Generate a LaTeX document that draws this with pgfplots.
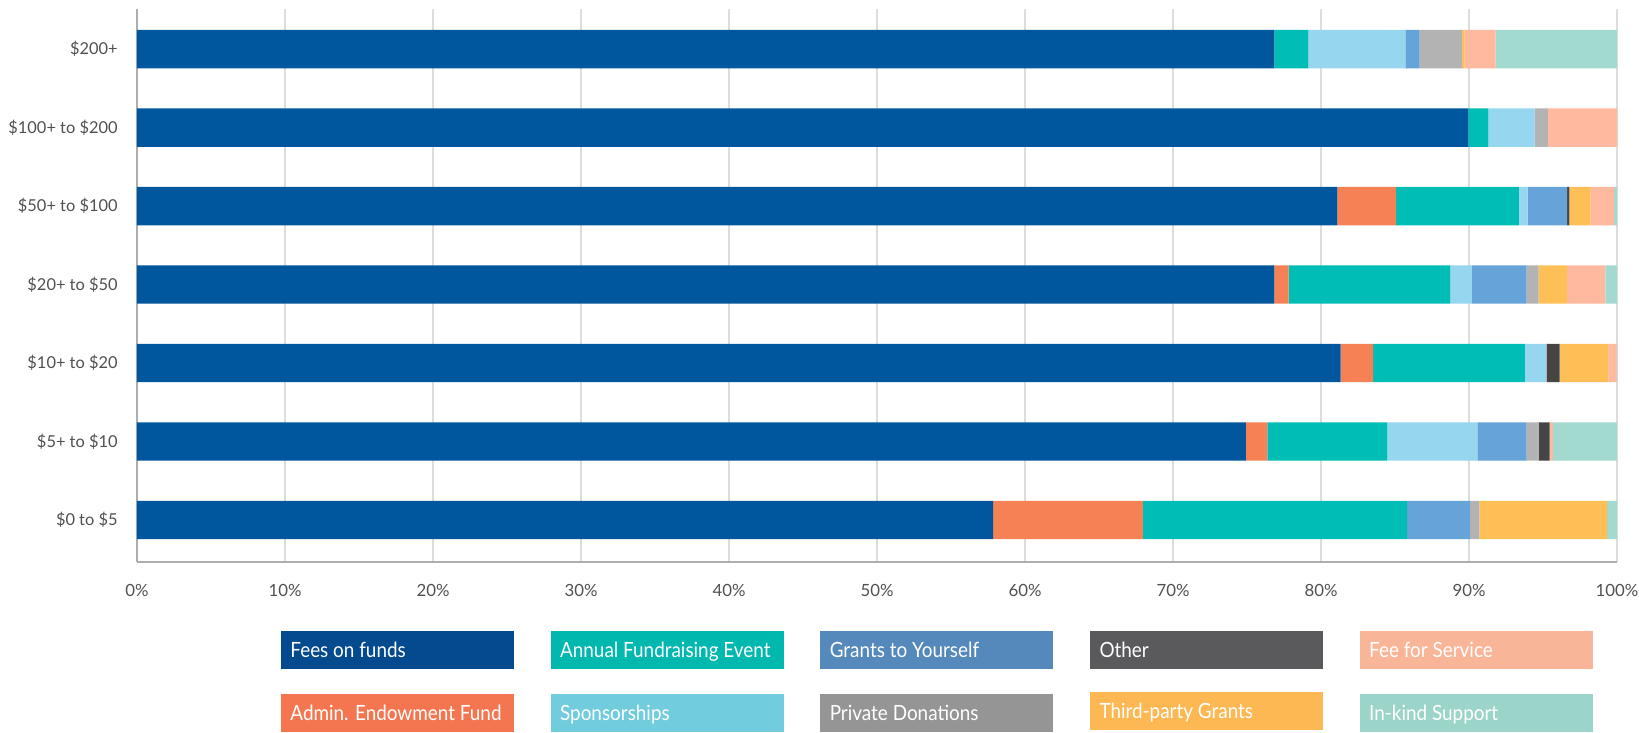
\documentclass[border=0pt]{standalone}
\usepackage{fontspec}
\setmainfont{Lato}
\newfontfamily\legfont[FakeStretch=0.9]{Lato}
\usepackage{pgfplots}
\usepackage{pgfplotstable}
\pgfplotsset{compat=1.18}

\definecolor{cFees}{HTML}{00579D}
\definecolor{cAdmin}{HTML}{F58154}
\definecolor{cAnnual}{HTML}{00BDB5}
\definecolor{cSpons}{HTML}{96D6EE}
\definecolor{cGrants}{HTML}{66A3D8}
\definecolor{cPrivate}{HTML}{B3B3B3}
\definecolor{cOther}{HTML}{454545}
\definecolor{cThird}{HTML}{FEBF56}
\definecolor{cFfS}{HTML}{FFB99F}
\definecolor{cInkind}{HTML}{A3DAD0}

\definecolor{lFees}{HTML}{034A8E}
\definecolor{lAdmin}{HTML}{F47650}
\definecolor{lAnnual}{HTML}{00B8AE}
\definecolor{lSpons}{HTML}{71CCDD}
\definecolor{lGrants}{HTML}{5588BB}
\definecolor{lPrivate}{HTML}{959595}
\definecolor{lOther}{HTML}{5A5A5C}
\definecolor{lThird}{HTML}{FDB853}
\definecolor{lFfS}{HTML}{F9B597}
\definecolor{lInkind}{HTML}{9BD5C9}

\definecolor{gridgray}{HTML}{DDDDDD}
\definecolor{axgray}{HTML}{AEAEAE}
\definecolor{labgray}{HTML}{505050}

\pgfplotstableread{
y fees admin annual spons grants private other third ffs inkind
0 57.85 10.11 17.85 0    4.26 0.63 0    8.63 0    0.67
1 74.93 1.44  8.11  6.08 3.33 0.81 0.74 0    0.23 4.33
2 81.33 2.19  10.26 1.41 0    0.05 0.88 3.30 0.55 0.03
3 76.85 0.96  10.93 1.45 3.70 0.81 0    1.93 2.59 0.78
4 81.11 3.96  8.30  0.59 2.67 0    0.15 1.44 1.59 0.19
5 89.96 0     1.34  3.14 0    0.89 0    0    4.67 0
6 76.85 0     2.30  6.55 0.97 2.85 0    0.18 2.10 8.20
}\datatable

\begin{document}
\begin{tikzpicture}
\useasboundingbox (0,0) rectangle (819.5pt,366.5pt);
\begin{axis}[
  at={(68.5pt,85.5pt)}, anchor=south west,
  scale only axis, width=740pt, height=276.5pt,
  xbar stacked, bar width=0.49,
  xmin=0, xmax=100, ymin=-0.535, ymax=6.51,
  xtick={0,10,...,100},
  xticklabels={0\%,10\%,20\%,30\%,40\%,50\%,60\%,70\%,80\%,90\%,100\%},
  ytick={0,1,2,3,4,5,6},
  yticklabels={\$0 to \$5,\$5+ to \$10,\$10+ to \$20,\$20+ to \$50,\$50+ to \$100,\$100+ to \$200,\$200+},
  tick style={draw=none}, major tick length=0pt,
  xmajorgrids, grid style={draw=gridgray, line width=0.6pt},
  axis x line*=bottom, axis y line*=left,
  x axis line style={-, draw=axgray, line width=1.3pt},
  y axis line style={-, draw=axgray, line width=0.9pt},
  xticklabel style={font=\fontsize{8.4}{10}\selectfont, text=labgray, inner sep=0pt, anchor=north, yshift=-11pt},
  yticklabel style={font=\fontsize{8.2}{10}\selectfont, text=labgray, inner sep=0pt, anchor=east, xshift=-9.5pt},
]
\addplot[fill=cFees, draw=none] table[x=fees, y=y]{\datatable};
\addplot[fill=cAdmin, draw=none] table[x=admin, y=y]{\datatable};
\addplot[fill=cAnnual, draw=none] table[x=annual, y=y]{\datatable};
\addplot[fill=cSpons, draw=none] table[x=spons, y=y]{\datatable};
\addplot[fill=cGrants, draw=none] table[x=grants, y=y]{\datatable};
\addplot[fill=cPrivate, draw=none] table[x=private, y=y]{\datatable};
\addplot[fill=cOther, draw=none] table[x=other, y=y]{\datatable};
\addplot[fill=cThird, draw=none] table[x=third, y=y]{\datatable};
\addplot[fill=cFfS, draw=none] table[x=ffs, y=y]{\datatable};
\addplot[fill=cInkind, draw=none] table[x=inkind, y=y]{\datatable};
\end{axis}
% legend
\def\legbox#1#2#3#4{%
  \fill[#3] ({140.5pt+#1*134.85pt},{#2-9.5pt}) rectangle ++(116.5pt,19pt);
  \node[anchor=base west, inner sep=0pt, text=white, font=\legfont\fontsize{10.5}{12}\selectfont]
    at ({140.5pt+#1*134.85pt+4.5pt},{#2-4pt}) {#4};}
\legbox{0}{41.5pt}{lFees}{Fees on funds}
\legbox{1}{41.5pt}{lAnnual}{Annual Fundraising Event}
\legbox{2}{41.5pt}{lGrants}{Grants to Yourself}
\legbox{3}{41.5pt}{lOther}{Other}
\legbox{4}{41.5pt}{lFfS}{Fee for Service}
\legbox{0}{10pt}{lAdmin}{Admin. Endowment Fund}
\legbox{1}{10pt}{lSpons}{Sponsorships}
\legbox{2}{10pt}{lPrivate}{Private Donations}
\legbox{3}{11pt}{lThird}{Third-party Grants}
\legbox{4}{10pt}{lInkind}{In-kind Support}
\end{tikzpicture}
\end{document}
